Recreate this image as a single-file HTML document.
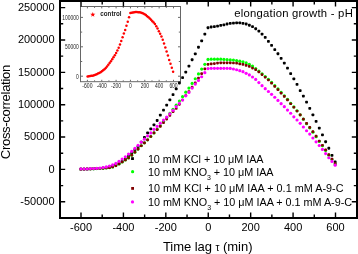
<!DOCTYPE html>
<html><head><meta charset="utf-8"><title>elongation growth - pH</title>
<style>html,body{margin:0;padding:0;background:#fff;overflow:hidden}svg{display:block;will-change:transform;font-family:"Liberation Sans",sans-serif}</style>
</head><body><svg width="358" height="254" viewBox="0 0 358 254"><rect x="0" y="0" width="358" height="254" fill="#fff"/><g id="inset"><rect x="80.5" y="6.5" width="100" height="75.2" fill="none" stroke="#666" stroke-width="1"/><path d="M87.4 81.2v-1.4M87.4 7v1.4M94.57 81.2v-0.9M94.57 7v0.9M101.75 81.2v-1.4M101.75 7v1.4M108.92 81.2v-0.9M108.92 7v0.9M116.1 81.2v-1.4M116.1 7v1.4M123.27 81.2v-0.9M123.27 7v0.9M130.45 81.2v-1.4M130.45 7v1.4M137.62 81.2v-0.9M137.62 7v0.9M144.8 81.2v-1.4M144.8 7v1.4M151.97 81.2v-0.9M151.97 7v0.9M159.15 81.2v-1.4M159.15 7v1.4M166.32 81.2v-0.9M166.32 7v0.9M173.5 81.2v-1.4M173.5 7v1.4M81 76.2h2M180 76.2h-2M81 61.5h1.2M180 61.5h-1.2M81 46.8h2M180 46.8h-2M81 32.1h1.2M180 32.1h-1.2M81 17.4h2M180 17.4h-2" stroke="#444" stroke-width="0.8" fill="none"/><g font-family="Liberation Sans" font-size="6.8" fill="#222" text-anchor="end"><text x="78.8" y="78.65" textLength="2.75" lengthAdjust="spacingAndGlyphs">0</text><text x="78.8" y="49.25" textLength="13.75" lengthAdjust="spacingAndGlyphs">50000</text><text x="78.8" y="19.85" textLength="16.5" lengthAdjust="spacingAndGlyphs">100000</text></g><g font-family="Liberation Sans" font-size="6.8" fill="#222" text-anchor="middle"><text x="87.4" y="87.9" textLength="10.1" lengthAdjust="spacingAndGlyphs">-600</text><text x="101.75" y="87.9" textLength="10.1" lengthAdjust="spacingAndGlyphs">-400</text><text x="116.1" y="87.9" textLength="10.1" lengthAdjust="spacingAndGlyphs">-200</text><text x="130.45" y="87.9" textLength="2.75" lengthAdjust="spacingAndGlyphs">0</text><text x="144.8" y="87.9" textLength="8.25" lengthAdjust="spacingAndGlyphs">200</text><text x="159.15" y="87.9" textLength="8.25" lengthAdjust="spacingAndGlyphs">400</text><text x="173.5" y="87.9" textLength="8.25" lengthAdjust="spacingAndGlyphs">600</text></g><g fill="#ff0000"><circle cx="87.6" cy="76.4" r="1.25"/><circle cx="88.9" cy="76.22" r="1.25"/><circle cx="90.19" cy="76.04" r="1.25"/><circle cx="91.49" cy="75.86" r="1.25"/><circle cx="92.78" cy="75.69" r="1.25"/><circle cx="94.08" cy="75.34" r="1.25"/><circle cx="95.37" cy="74.84" r="1.25"/><circle cx="96.67" cy="74.26" r="1.25"/><circle cx="97.96" cy="73.59" r="1.25"/><circle cx="99.26" cy="72.93" r="1.25"/><circle cx="100.55" cy="72.13" r="1.25"/><circle cx="101.85" cy="71.23" r="1.25"/><circle cx="103.15" cy="70.25" r="1.25"/><circle cx="104.44" cy="69.26" r="1.25"/><circle cx="105.74" cy="67.91" r="1.25"/><circle cx="107.03" cy="66.56" r="1.25"/><circle cx="108.33" cy="64.79" r="1.25"/><circle cx="109.62" cy="63.02" r="1.25"/><circle cx="110.92" cy="61.17" r="1.25"/><circle cx="112.21" cy="59.23" r="1.25"/><circle cx="113.51" cy="57.29" r="1.25"/><circle cx="114.8" cy="55.32" r="1.25"/><circle cx="116.1" cy="53.08" r="1.25"/><circle cx="117.4" cy="50.61" r="1.25"/><circle cx="118.69" cy="47.76" r="1.25"/><circle cx="119.99" cy="44.45" r="1.25"/><circle cx="121.28" cy="41.05" r="1.25"/><circle cx="122.58" cy="37.35" r="1.25"/><circle cx="123.87" cy="33.58" r="1.25"/><circle cx="125.17" cy="29.95" r="1.25"/><circle cx="126.46" cy="25.72" r="1.25"/><circle cx="127.76" cy="21.63" r="1.25"/><circle cx="129.05" cy="17.32" r="1.25"/><circle cx="130.35" cy="13" r="1.25"/><circle cx="131.65" cy="12.69" r="1.25"/><circle cx="132.94" cy="12.41" r="1.25"/><circle cx="134.24" cy="12.18" r="1.25"/><circle cx="135.53" cy="12.08" r="1.25"/><circle cx="136.83" cy="12.02" r="1.25"/><circle cx="138.12" cy="12.13" r="1.25"/><circle cx="139.42" cy="12.3" r="1.25"/><circle cx="140.71" cy="12.61" r="1.25"/><circle cx="142.01" cy="13" r="1.25"/><circle cx="143.3" cy="13.52" r="1.25"/><circle cx="144.6" cy="14.19" r="1.25"/><circle cx="145.9" cy="15.12" r="1.25"/><circle cx="147.19" cy="16.15" r="1.25"/><circle cx="148.49" cy="17.26" r="1.25"/><circle cx="149.78" cy="18.49" r="1.25"/><circle cx="151.08" cy="19.83" r="1.25"/><circle cx="152.37" cy="21.2" r="1.25"/><circle cx="153.67" cy="22.59" r="1.25"/><circle cx="154.96" cy="24.1" r="1.25"/><circle cx="156.26" cy="26.17" r="1.25"/><circle cx="157.55" cy="28.38" r="1.25"/><circle cx="158.85" cy="31.16" r="1.25"/><circle cx="160.15" cy="33.63" r="1.25"/><circle cx="161.44" cy="36.42" r="1.25"/><circle cx="162.74" cy="39.76" r="1.25"/><circle cx="164.03" cy="43.4" r="1.25"/><circle cx="165.33" cy="47.59" r="1.25"/><circle cx="166.62" cy="51.55" r="1.25"/><circle cx="167.92" cy="55.43" r="1.25"/><circle cx="169.21" cy="59.92" r="1.25"/><circle cx="170.51" cy="63.76" r="1.25"/><circle cx="171.8" cy="67.82" r="1.25"/><circle cx="173.1" cy="71.8" r="1.25"/></g><polygon points="92.8,11.9 93.45,13.71 95.37,13.77 93.85,14.94 94.39,16.78 92.8,15.7 91.21,16.78 91.75,14.94 90.23,13.77 92.15,13.71" fill="#ff0000"/><text x="100.3" y="16.4" font-family="Liberation Sans" font-weight="bold" font-size="7.2" fill="#222" textLength="21.2" lengthAdjust="spacingAndGlyphs">control</text></g><g fill="#000"><rect x="79.45" y="167.8" width="2.8" height="2.8" rx="0.8"/><rect x="82.63" y="167.73" width="2.8" height="2.8" rx="0.8"/><rect x="85.81" y="167.66" width="2.8" height="2.8" rx="0.8"/><rect x="88.99" y="167.57" width="2.8" height="2.8" rx="0.8"/><rect x="92.17" y="167.35" width="2.8" height="2.8" rx="0.8"/><rect x="95.34" y="167.13" width="2.8" height="2.8" rx="0.8"/><rect x="98.52" y="166.91" width="2.8" height="2.8" rx="0.8"/><rect x="101.7" y="166.59" width="2.8" height="2.8" rx="0.8"/><rect x="104.88" y="166.18" width="2.8" height="2.8" rx="0.8"/><rect x="108.06" y="165.58" width="2.8" height="2.8" rx="0.8"/><rect x="111.24" y="164.72" width="2.8" height="2.8" rx="0.8"/><rect x="114.42" y="163.49" width="2.8" height="2.8" rx="0.8"/><rect x="117.6" y="162" width="2.8" height="2.8" rx="0.8"/><rect x="120.78" y="159.98" width="2.8" height="2.8" rx="0.8"/><rect x="123.96" y="157.75" width="2.8" height="2.8" rx="0.8"/><rect x="127.13" y="154.87" width="2.8" height="2.8" rx="0.8"/><rect x="130.31" y="151.98" width="2.8" height="2.8" rx="0.8"/><rect x="133.49" y="148.81" width="2.8" height="2.8" rx="0.8"/><rect x="136.67" y="145.43" width="2.8" height="2.8" rx="0.8"/><rect x="139.85" y="140.82" width="2.8" height="2.8" rx="0.8"/><rect x="143.03" y="135.98" width="2.8" height="2.8" rx="0.8"/><rect x="146.21" y="131.54" width="2.8" height="2.8" rx="0.8"/><rect x="149.39" y="127.56" width="2.8" height="2.8" rx="0.8"/><rect x="152.57" y="123.51" width="2.8" height="2.8" rx="0.8"/><rect x="155.75" y="119.08" width="2.8" height="2.8" rx="0.8"/><rect x="158.92" y="113.82" width="2.8" height="2.8" rx="0.8"/><rect x="162.1" y="108.75" width="2.8" height="2.8" rx="0.8"/><rect x="165.28" y="103.63" width="2.8" height="2.8" rx="0.8"/><rect x="168.46" y="98.56" width="2.8" height="2.8" rx="0.8"/><rect x="171.64" y="93.32" width="2.8" height="2.8" rx="0.8"/><rect x="174.82" y="87.46" width="2.8" height="2.8" rx="0.8"/><rect x="178" y="81.6" width="2.8" height="2.8" rx="0.8"/><rect x="181.18" y="76.14" width="2.8" height="2.8" rx="0.8"/><rect x="184.36" y="70.65" width="2.8" height="2.8" rx="0.8"/><rect x="187.54" y="64.71" width="2.8" height="2.8" rx="0.8"/><rect x="190.72" y="58.37" width="2.8" height="2.8" rx="0.8"/><rect x="193.89" y="52.4" width="2.8" height="2.8" rx="0.8"/><rect x="197.07" y="45.85" width="2.8" height="2.8" rx="0.8"/><rect x="200.25" y="39.39" width="2.8" height="2.8" rx="0.8"/><rect x="203.43" y="32.73" width="2.8" height="2.8" rx="0.8"/><rect x="206.61" y="26.37" width="2.8" height="2.8" rx="0.8"/><rect x="209.79" y="25.59" width="2.8" height="2.8" rx="0.8"/><rect x="212.97" y="25.22" width="2.8" height="2.8" rx="0.8"/><rect x="216.15" y="24.63" width="2.8" height="2.8" rx="0.8"/><rect x="219.33" y="24.01" width="2.8" height="2.8" rx="0.8"/><rect x="222.5" y="23.5" width="2.8" height="2.8" rx="0.8"/><rect x="225.68" y="22.58" width="2.8" height="2.8" rx="0.8"/><rect x="228.86" y="21.98" width="2.8" height="2.8" rx="0.8"/><rect x="232.04" y="21.78" width="2.8" height="2.8" rx="0.8"/><rect x="235.22" y="21.5" width="2.8" height="2.8" rx="0.8"/><rect x="238.4" y="21.52" width="2.8" height="2.8" rx="0.8"/><rect x="241.58" y="22.01" width="2.8" height="2.8" rx="0.8"/><rect x="244.76" y="22.59" width="2.8" height="2.8" rx="0.8"/><rect x="247.94" y="23.84" width="2.8" height="2.8" rx="0.8"/><rect x="251.12" y="25.13" width="2.8" height="2.8" rx="0.8"/><rect x="254.29" y="27.35" width="2.8" height="2.8" rx="0.8"/><rect x="257.47" y="29.71" width="2.8" height="2.8" rx="0.8"/><rect x="260.65" y="32.76" width="2.8" height="2.8" rx="0.8"/><rect x="263.83" y="36.03" width="2.8" height="2.8" rx="0.8"/><rect x="267.01" y="40.01" width="2.8" height="2.8" rx="0.8"/><rect x="270.19" y="44.02" width="2.8" height="2.8" rx="0.8"/><rect x="273.37" y="48.22" width="2.8" height="2.8" rx="0.8"/><rect x="276.55" y="52.37" width="2.8" height="2.8" rx="0.8"/><rect x="279.73" y="56.99" width="2.8" height="2.8" rx="0.8"/><rect x="282.91" y="61.81" width="2.8" height="2.8" rx="0.8"/><rect x="286.09" y="66.65" width="2.8" height="2.8" rx="0.8"/><rect x="289.26" y="72.14" width="2.8" height="2.8" rx="0.8"/><rect x="292.44" y="77.48" width="2.8" height="2.8" rx="0.8"/><rect x="295.62" y="82.94" width="2.8" height="2.8" rx="0.8"/><rect x="298.8" y="89.22" width="2.8" height="2.8" rx="0.8"/><rect x="301.98" y="94.75" width="2.8" height="2.8" rx="0.8"/><rect x="305.16" y="100.81" width="2.8" height="2.8" rx="0.8"/><rect x="308.34" y="106.98" width="2.8" height="2.8" rx="0.8"/><rect x="311.52" y="113.44" width="2.8" height="2.8" rx="0.8"/><rect x="314.7" y="119.89" width="2.8" height="2.8" rx="0.8"/><rect x="317.88" y="126.76" width="2.8" height="2.8" rx="0.8"/><rect x="321.05" y="133.52" width="2.8" height="2.8" rx="0.8"/><rect x="324.23" y="140.37" width="2.8" height="2.8" rx="0.8"/><rect x="327.41" y="146.83" width="2.8" height="2.8" rx="0.8"/><rect x="330.59" y="153.9" width="2.8" height="2.8" rx="0.8"/><rect x="333.77" y="160.6" width="2.8" height="2.8" rx="0.8"/></g><g fill="#00ff00"><circle cx="80.85" cy="169.2" r="1.6"/><circle cx="84.03" cy="169.09" r="1.6"/><circle cx="87.21" cy="168.97" r="1.6"/><circle cx="90.39" cy="168.85" r="1.6"/><circle cx="93.57" cy="168.74" r="1.6"/><circle cx="96.74" cy="168.62" r="1.6"/><circle cx="99.92" cy="168.5" r="1.6"/><circle cx="103.1" cy="168.25" r="1.6"/><circle cx="106.28" cy="167.99" r="1.6"/><circle cx="109.46" cy="167.59" r="1.6"/><circle cx="112.64" cy="166.91" r="1.6"/><circle cx="115.82" cy="165.59" r="1.6"/><circle cx="119" cy="163.9" r="1.6"/><circle cx="122.18" cy="161.99" r="1.6"/><circle cx="125.36" cy="159.97" r="1.6"/><circle cx="128.53" cy="157.97" r="1.6"/><circle cx="131.71" cy="155.18" r="1.6"/><circle cx="134.89" cy="152.2" r="1.6"/><circle cx="138.07" cy="149.03" r="1.6"/><circle cx="141.25" cy="145.76" r="1.6"/><circle cx="144.43" cy="142.84" r="1.6"/><circle cx="147.61" cy="139.78" r="1.6"/><circle cx="150.79" cy="136.52" r="1.6"/><circle cx="153.97" cy="132.92" r="1.6"/><circle cx="157.15" cy="129.36" r="1.6"/><circle cx="160.32" cy="125.57" r="1.6"/><circle cx="163.5" cy="121.37" r="1.6"/><circle cx="166.68" cy="117.54" r="1.6"/><circle cx="169.86" cy="113.42" r="1.6"/><circle cx="173.04" cy="109.35" r="1.6"/><circle cx="176.22" cy="105.17" r="1.6"/><circle cx="179.4" cy="101" r="1.6"/><circle cx="182.58" cy="96.69" r="1.6"/><circle cx="185.76" cy="92.13" r="1.6"/><circle cx="188.94" cy="88.08" r="1.6"/><circle cx="192.12" cy="83.42" r="1.6"/><circle cx="195.29" cy="78.76" r="1.6"/><circle cx="198.47" cy="73.94" r="1.6"/><circle cx="201.65" cy="69.12" r="1.6"/><circle cx="204.83" cy="64.35" r="1.6"/><circle cx="208.01" cy="59.4" r="1.6"/><circle cx="211.19" cy="59.21" r="1.6"/><circle cx="214.37" cy="59.2" r="1.6"/><circle cx="217.55" cy="59.2" r="1.6"/><circle cx="220.73" cy="59.2" r="1.6"/><circle cx="223.9" cy="59.38" r="1.6"/><circle cx="227.08" cy="59.67" r="1.6"/><circle cx="230.26" cy="59.88" r="1.6"/><circle cx="233.44" cy="60.08" r="1.6"/><circle cx="236.62" cy="60.55" r="1.6"/><circle cx="239.8" cy="61.16" r="1.6"/><circle cx="242.98" cy="61.76" r="1.6"/><circle cx="246.16" cy="62.95" r="1.6"/><circle cx="249.34" cy="64.33" r="1.6"/><circle cx="252.52" cy="65.99" r="1.6"/><circle cx="255.69" cy="68.6" r="1.6"/><circle cx="258.87" cy="71.1" r="1.6"/><circle cx="262.05" cy="73.83" r="1.6"/><circle cx="265.23" cy="76.53" r="1.6"/><circle cx="268.41" cy="79.31" r="1.6"/><circle cx="271.59" cy="82.4" r="1.6"/><circle cx="274.77" cy="85.67" r="1.6"/><circle cx="277.95" cy="88.95" r="1.6"/><circle cx="281.13" cy="92.43" r="1.6"/><circle cx="284.31" cy="95.79" r="1.6"/><circle cx="287.49" cy="99.37" r="1.6"/><circle cx="290.66" cy="103.33" r="1.6"/><circle cx="293.84" cy="106.92" r="1.6"/><circle cx="297.02" cy="110.78" r="1.6"/><circle cx="300.2" cy="114.82" r="1.6"/><circle cx="303.38" cy="119.14" r="1.6"/><circle cx="306.56" cy="123.68" r="1.6"/><circle cx="309.74" cy="127.86" r="1.6"/><circle cx="312.92" cy="132.19" r="1.6"/><circle cx="316.1" cy="136.69" r="1.6"/><circle cx="319.27" cy="141.5" r="1.6"/><circle cx="322.45" cy="145.74" r="1.6"/><circle cx="325.63" cy="150.4" r="1.6"/><circle cx="328.81" cy="155.17" r="1.6"/><circle cx="331.99" cy="159.53" r="1.6"/><circle cx="335.17" cy="164.1" r="1.6"/></g><g fill="#800000"><rect x="79.5" y="167.85" width="2.7" height="2.7" rx="0.8"/><rect x="82.68" y="167.74" width="2.7" height="2.7" rx="0.8"/><rect x="85.86" y="167.62" width="2.7" height="2.7" rx="0.8"/><rect x="89.04" y="167.5" width="2.7" height="2.7" rx="0.8"/><rect x="92.22" y="167.39" width="2.7" height="2.7" rx="0.8"/><rect x="95.39" y="167.27" width="2.7" height="2.7" rx="0.8"/><rect x="98.57" y="167.15" width="2.7" height="2.7" rx="0.8"/><rect x="101.75" y="166.9" width="2.7" height="2.7" rx="0.8"/><rect x="104.93" y="166.64" width="2.7" height="2.7" rx="0.8"/><rect x="108.11" y="166.24" width="2.7" height="2.7" rx="0.8"/><rect x="111.29" y="165.56" width="2.7" height="2.7" rx="0.8"/><rect x="114.47" y="164.24" width="2.7" height="2.7" rx="0.8"/><rect x="117.65" y="162.55" width="2.7" height="2.7" rx="0.8"/><rect x="120.83" y="160.64" width="2.7" height="2.7" rx="0.8"/><rect x="124.01" y="158.62" width="2.7" height="2.7" rx="0.8"/><rect x="127.19" y="156.62" width="2.7" height="2.7" rx="0.8"/><rect x="130.36" y="153.83" width="2.7" height="2.7" rx="0.8"/><rect x="133.54" y="150.85" width="2.7" height="2.7" rx="0.8"/><rect x="136.72" y="147.68" width="2.7" height="2.7" rx="0.8"/><rect x="139.9" y="144.41" width="2.7" height="2.7" rx="0.8"/><rect x="143.08" y="141.49" width="2.7" height="2.7" rx="0.8"/><rect x="146.26" y="138.43" width="2.7" height="2.7" rx="0.8"/><rect x="149.44" y="135.17" width="2.7" height="2.7" rx="0.8"/><rect x="152.62" y="131.58" width="2.7" height="2.7" rx="0.8"/><rect x="155.8" y="128.21" width="2.7" height="2.7" rx="0.8"/><rect x="158.97" y="125.12" width="2.7" height="2.7" rx="0.8"/><rect x="162.15" y="121.23" width="2.7" height="2.7" rx="0.8"/><rect x="165.33" y="117.68" width="2.7" height="2.7" rx="0.8"/><rect x="168.51" y="113.98" width="2.7" height="2.7" rx="0.8"/><rect x="171.69" y="110.41" width="2.7" height="2.7" rx="0.8"/><rect x="174.87" y="107.14" width="2.7" height="2.7" rx="0.8"/><rect x="178.05" y="102.95" width="2.7" height="2.7" rx="0.8"/><rect x="181.23" y="98.65" width="2.7" height="2.7" rx="0.8"/><rect x="184.41" y="94.37" width="2.7" height="2.7" rx="0.8"/><rect x="187.59" y="90.14" width="2.7" height="2.7" rx="0.8"/><rect x="190.77" y="85.86" width="2.7" height="2.7" rx="0.8"/><rect x="193.94" y="81.59" width="2.7" height="2.7" rx="0.8"/><rect x="197.12" y="76.69" width="2.7" height="2.7" rx="0.8"/><rect x="200.3" y="72.35" width="2.7" height="2.7" rx="0.8"/><rect x="203.48" y="67.6" width="2.7" height="2.7" rx="0.8"/><rect x="206.66" y="62.95" width="2.7" height="2.7" rx="0.8"/><rect x="209.84" y="62.56" width="2.7" height="2.7" rx="0.8"/><rect x="213.02" y="62.18" width="2.7" height="2.7" rx="0.8"/><rect x="216.2" y="61.7" width="2.7" height="2.7" rx="0.8"/><rect x="219.38" y="61.47" width="2.7" height="2.7" rx="0.8"/><rect x="222.55" y="61.45" width="2.7" height="2.7" rx="0.8"/><rect x="225.73" y="61.45" width="2.7" height="2.7" rx="0.8"/><rect x="228.91" y="61.45" width="2.7" height="2.7" rx="0.8"/><rect x="232.09" y="61.63" width="2.7" height="2.7" rx="0.8"/><rect x="235.27" y="61.83" width="2.7" height="2.7" rx="0.8"/><rect x="238.45" y="62.5" width="2.7" height="2.7" rx="0.8"/><rect x="241.63" y="63.11" width="2.7" height="2.7" rx="0.8"/><rect x="244.81" y="64.01" width="2.7" height="2.7" rx="0.8"/><rect x="247.99" y="65.09" width="2.7" height="2.7" rx="0.8"/><rect x="251.17" y="66.71" width="2.7" height="2.7" rx="0.8"/><rect x="254.34" y="68.25" width="2.7" height="2.7" rx="0.8"/><rect x="257.52" y="70.56" width="2.7" height="2.7" rx="0.8"/><rect x="260.7" y="73.18" width="2.7" height="2.7" rx="0.8"/><rect x="263.88" y="75.88" width="2.7" height="2.7" rx="0.8"/><rect x="267.06" y="78.66" width="2.7" height="2.7" rx="0.8"/><rect x="270.24" y="81.75" width="2.7" height="2.7" rx="0.8"/><rect x="273.42" y="85.02" width="2.7" height="2.7" rx="0.8"/><rect x="276.6" y="88.3" width="2.7" height="2.7" rx="0.8"/><rect x="279.78" y="91.78" width="2.7" height="2.7" rx="0.8"/><rect x="282.96" y="95.05" width="2.7" height="2.7" rx="0.8"/><rect x="286.13" y="98.52" width="2.7" height="2.7" rx="0.8"/><rect x="289.31" y="102.38" width="2.7" height="2.7" rx="0.8"/><rect x="292.49" y="105.88" width="2.7" height="2.7" rx="0.8"/><rect x="295.67" y="109.64" width="2.7" height="2.7" rx="0.8"/><rect x="298.85" y="113.58" width="2.7" height="2.7" rx="0.8"/><rect x="302.03" y="117.79" width="2.7" height="2.7" rx="0.8"/><rect x="305.21" y="122.02" width="2.7" height="2.7" rx="0.8"/><rect x="308.39" y="126.02" width="2.7" height="2.7" rx="0.8"/><rect x="311.57" y="130.34" width="2.7" height="2.7" rx="0.8"/><rect x="314.75" y="134.84" width="2.7" height="2.7" rx="0.8"/><rect x="317.92" y="139.65" width="2.7" height="2.7" rx="0.8"/><rect x="321.1" y="143.89" width="2.7" height="2.7" rx="0.8"/><rect x="324.28" y="148.55" width="2.7" height="2.7" rx="0.8"/><rect x="327.46" y="153.32" width="2.7" height="2.7" rx="0.8"/><rect x="330.64" y="157.68" width="2.7" height="2.7" rx="0.8"/><rect x="333.82" y="162.25" width="2.7" height="2.7" rx="0.8"/></g><g fill="#ff00ff"><circle cx="80.85" cy="168.9" r="1.6"/><circle cx="84.03" cy="168.9" r="1.6"/><circle cx="87.21" cy="168.9" r="1.6"/><circle cx="90.39" cy="168.62" r="1.6"/><circle cx="93.57" cy="168.5" r="1.6"/><circle cx="96.74" cy="168.31" r="1.6"/><circle cx="99.92" cy="168" r="1.6"/><circle cx="103.1" cy="167.5" r="1.6"/><circle cx="106.28" cy="166.97" r="1.6"/><circle cx="109.46" cy="165.98" r="1.6"/><circle cx="112.64" cy="164.92" r="1.6"/><circle cx="115.82" cy="163.39" r="1.6"/><circle cx="119" cy="161.3" r="1.6"/><circle cx="122.18" cy="158.98" r="1.6"/><circle cx="125.36" cy="156.75" r="1.6"/><circle cx="128.53" cy="154.07" r="1.6"/><circle cx="131.71" cy="151.37" r="1.6"/><circle cx="134.89" cy="148.3" r="1.6"/><circle cx="138.07" cy="145.33" r="1.6"/><circle cx="141.25" cy="142.06" r="1.6"/><circle cx="144.43" cy="139.14" r="1.6"/><circle cx="147.61" cy="135.9" r="1.6"/><circle cx="150.79" cy="132.9" r="1.6"/><circle cx="153.97" cy="129.34" r="1.6"/><circle cx="157.15" cy="126.45" r="1.6"/><circle cx="160.32" cy="123.18" r="1.6"/><circle cx="163.5" cy="120.11" r="1.6"/><circle cx="166.68" cy="117.21" r="1.6"/><circle cx="169.86" cy="113.83" r="1.6"/><circle cx="173.04" cy="110.35" r="1.6"/><circle cx="176.22" cy="106.67" r="1.6"/><circle cx="179.4" cy="103.29" r="1.6"/><circle cx="182.58" cy="100" r="1.6"/><circle cx="185.76" cy="95.84" r="1.6"/><circle cx="188.94" cy="92.47" r="1.6"/><circle cx="192.12" cy="88.12" r="1.6"/><circle cx="195.29" cy="84.04" r="1.6"/><circle cx="198.47" cy="80.43" r="1.6"/><circle cx="201.65" cy="76.77" r="1.6"/><circle cx="204.83" cy="72.66" r="1.6"/><circle cx="208.01" cy="68.6" r="1.6"/><circle cx="211.19" cy="68.31" r="1.6"/><circle cx="214.37" cy="68.3" r="1.6"/><circle cx="217.55" cy="68.3" r="1.6"/><circle cx="220.73" cy="68.3" r="1.6"/><circle cx="223.9" cy="68.3" r="1.6"/><circle cx="227.08" cy="68.3" r="1.6"/><circle cx="230.26" cy="68.39" r="1.6"/><circle cx="233.44" cy="69.02" r="1.6"/><circle cx="236.62" cy="69.74" r="1.6"/><circle cx="239.8" cy="70.64" r="1.6"/><circle cx="242.98" cy="71.72" r="1.6"/><circle cx="246.16" cy="73.33" r="1.6"/><circle cx="249.34" cy="74.92" r="1.6"/><circle cx="252.52" cy="76.99" r="1.6"/><circle cx="255.69" cy="79.4" r="1.6"/><circle cx="258.87" cy="82.57" r="1.6"/><circle cx="262.05" cy="85.64" r="1.6"/><circle cx="265.23" cy="88.63" r="1.6"/><circle cx="268.41" cy="91.51" r="1.6"/><circle cx="271.59" cy="94.37" r="1.6"/><circle cx="274.77" cy="97.27" r="1.6"/><circle cx="277.95" cy="100.45" r="1.6"/><circle cx="281.13" cy="103.63" r="1.6"/><circle cx="284.31" cy="106.71" r="1.6"/><circle cx="287.49" cy="110.08" r="1.6"/><circle cx="290.66" cy="113.26" r="1.6"/><circle cx="293.84" cy="116.84" r="1.6"/><circle cx="297.02" cy="120.02" r="1.6"/><circle cx="300.2" cy="123.3" r="1.6"/><circle cx="303.38" cy="126.98" r="1.6"/><circle cx="306.56" cy="130.76" r="1.6"/><circle cx="309.74" cy="134.12" r="1.6"/><circle cx="312.92" cy="138" r="1.6"/><circle cx="316.1" cy="141.8" r="1.6"/><circle cx="319.27" cy="145.49" r="1.6"/><circle cx="322.45" cy="149.4" r="1.6"/><circle cx="325.63" cy="153.61" r="1.6"/><circle cx="328.81" cy="157.74" r="1.6"/><circle cx="331.99" cy="161.41" r="1.6"/><circle cx="335.17" cy="165.2" r="1.6"/></g><g fill="#000"><rect x="59" y="0" width="299" height="2"/><rect x="59" y="217" width="299" height="2"/><rect x="59" y="0" width="2" height="219"/><rect x="356" y="0" width="2" height="219"/></g><path d="M81 217v-4.4M81 2v4.4M102.21 217v-2.4M102.21 2v2.4M123.42 217v-4.4M123.42 2v4.4M144.63 217v-2.4M144.63 2v2.4M165.83 217v-4.4M165.83 2v4.4M187.04 217v-2.4M187.04 2v2.4M208.25 217v-4.4M208.25 2v4.4M229.46 217v-2.4M229.46 2v2.4M250.67 217v-4.4M250.67 2v4.4M271.87 217v-2.4M271.87 2v2.4M293.08 217v-4.4M293.08 2v4.4M314.29 217v-2.4M314.29 2v2.4M335.5 217v-4.4M335.5 2v4.4M61 201.75h4.2M356 201.75h-4.2M61 185.58h2.2M356 185.58h-2.2M61 169.4h4.2M356 169.4h-4.2M61 153.22h2.2M356 153.22h-2.2M61 137.05h4.2M356 137.05h-4.2M61 120.88h2.2M356 120.88h-2.2M61 104.7h4.2M356 104.7h-4.2M61 88.53h2.2M356 88.53h-2.2M61 72.35h4.2M356 72.35h-4.2M61 56.17h2.2M356 56.17h-2.2M61 40h4.2M356 40h-4.2M61 23.82h2.2M356 23.82h-2.2M61 7.65h4.2M356 7.65h-4.2" stroke="#000" stroke-width="1.4" fill="none"/><g font-family="Liberation Sans" font-size="11" fill="#000" text-anchor="middle"><text x="81" y="231.4">-600</text><text x="123.42" y="231.4">-400</text><text x="165.83" y="231.4">-200</text><text x="208.25" y="231.4">0</text><text x="250.67" y="231.4">200</text><text x="293.08" y="231.4">400</text><text x="335.5" y="231.4">600</text></g><g font-family="Liberation Sans" font-size="11" fill="#000" text-anchor="end"><text x="54.6" y="205.05">-50000</text><text x="54.6" y="172.7">0</text><text x="54.6" y="140.35">50000</text><text x="54.6" y="108">100000</text><text x="54.6" y="75.65">150000</text><text x="54.6" y="43.3">200000</text><text x="54.6" y="10.95">250000</text></g><text x="162.9" y="251.1" font-family="Liberation Sans" font-size="13" textLength="89.6" lengthAdjust="spacing">Time lag <tspan font-size="10">&#964;</tspan> (min)</text><text transform="translate(9.9 112) rotate(-90)" font-family="Liberation Sans" font-size="13" text-anchor="middle" textLength="94.4" lengthAdjust="spacing">Cross-correlation</text><text x="234.2" y="17.1" font-family="Liberation Sans" font-size="11.3" textLength="118.6" lengthAdjust="spacing">elongation growth - pH</text><rect x="131.1" y="157.2" width="2.8" height="2.8" fill="#000"/><circle cx="132.6" cy="171.7" r="1.6" fill="#00ff00"/><rect x="131.2" y="187" width="2.8" height="2.8" fill="#800000"/><circle cx="132.5" cy="201.9" r="1.6" fill="#ff00ff"/><g font-family="Liberation Sans" font-size="10.8" fill="#000"><text x="147.9" y="162.6" textLength="115.6" lengthAdjust="spacing">10 mM KCl + 10 &#956;M IAA</text><text x="147.9" y="175.5" textLength="125.6" lengthAdjust="spacing">10 mM KNO<tspan font-size="7" dy="4.4">3</tspan><tspan dy="-4.4"> + 10 &#956;M IAA</tspan></text><text x="147.9" y="192.2" textLength="195.6" lengthAdjust="spacing">10 mM KCl + 10 &#956;M IAA + 0.1 mM A-9-C</text><text x="147.9" y="205.7" textLength="204.2" lengthAdjust="spacing">10 mM KNO<tspan font-size="7" dy="4.4">3</tspan><tspan dy="-4.4"> + 10 &#956;M IAA + 0.1 mM A-9-C</tspan></text></g></svg></body></html>
